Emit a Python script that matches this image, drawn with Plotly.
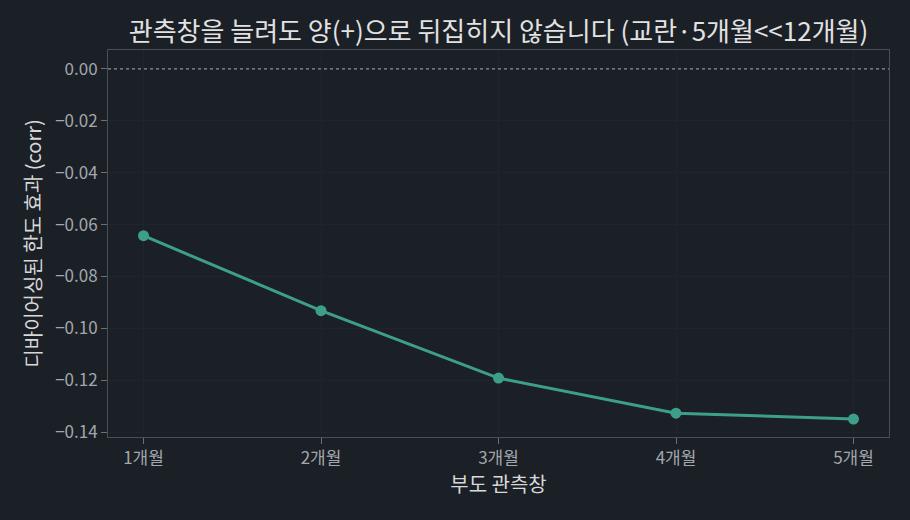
import plotly.graph_objects as go

windows = ['1개월', '2개월', '3개월', '4개월', '5개월']
effect = [-0.0643, -0.0932, -0.1192, -0.1327, -0.1350]

bg = '#1b1f26'
font = 'Noto Sans CJK KR'

fig = go.Figure()
fig.add_trace(go.Scatter(x=windows, y=effect, mode='lines+markers',
                         line=dict(color='#3d9f8a', width=3),
                         marker=dict(color='#3d9f8a', size=11),
                         showlegend=False))

# zero reference line
fig.add_hline(y=0, line=dict(color='#a9adb3', width=1, dash='dot'))

fig.update_layout(
    width=910, height=520,
    paper_bgcolor=bg, plot_bgcolor=bg,
    font=dict(family=font, color='#a3a7ad', size=17),
    title=dict(text='관측창을 늘려도 양(+)으로 뒤집히지 않습니다 (교란·5개월<<12개월)',
               xref='paper', x=0.5, xanchor='center', y=0.938, yanchor='middle',
               font=dict(size=26, color='#e2e2e2', family=font)),
    margin=dict(l=108, r=21, t=50, b=83),
)
fig.update_xaxes(range=[-0.2, 4.2], showline=True, linecolor='#4a4f57', mirror=True,
                 ticks='outside', tickcolor='#6b7078', ticklen=6,
                 showgrid=True, gridcolor='#20252c', zeroline=False,
                 title=dict(text='부도 관측창', font=dict(size=20, color='#d8d8d8'), standoff=6))
fig.update_yaxes(range=[-0.1419, 0.0073], showline=True, linecolor='#4a4f57', mirror=True,
                 ticks='outside', tickcolor='#6b7078', ticklen=6,
                 tickvals=[0, -0.02, -0.04, -0.06, -0.08, -0.10, -0.12, -0.14],
                 tickformat='.2f',
                 showgrid=True, gridcolor='#20252c', zeroline=False,
                 title=dict(text='디바이어싱된 한도 효과 (corr)', font=dict(size=20, color='#d8d8d8'), standoff=8))

# drop the page's default body margin so the figure sits at the window corner
fig.write_html('out.html', config={'displayModeBar': False},
               post_script="document.body.style.margin='0';document.body.style.overflow='hidden';")
